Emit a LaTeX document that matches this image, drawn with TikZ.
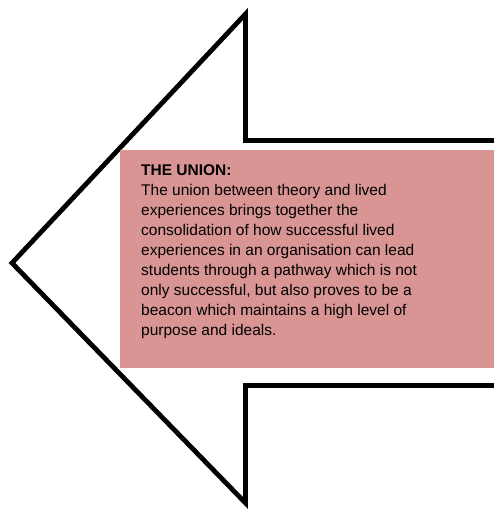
\documentclass[tikz,border=0pt]{standalone}
\usepackage{fontspec}
\setmainfont{Liberation Sans}
\usetikzlibrary{positioning}
\definecolor{unionpink}{RGB}{217,149,148}

\tikzset{
    outline/.style={draw=black, line width=4.8pt, line join=miter},
    notebox/.style={fill=unionpink, draw=none},
    notetext/.style={align=left, inner sep=0pt, anchor=north west,
        font=\fontsize{15.5}{20.1}\selectfont}
}

\begin{document}
\begin{tikzpicture}[x=1pt, y=-1pt]
    \useasboundingbox (0, 0) rectangle (493, 509);

    \coordinate (T) at (12, 263);
    \coordinate (HT) at (245.5, 14);
    \coordinate (ST) at (245.5, 140.5);
    \coordinate (RT) at (500, 140.5);
    \coordinate (HB) at (245.5, 503);
    \coordinate (SB) at (245.5, 385.5);
    \coordinate (RB) at (500, 385.5);

    \draw[outline] (RT) -- (ST) -- (HT) -- (T) -- (HB) -- (SB) -- (RB);

    \fill[notebox] (120, 150) rectangle (500, 368);

    \node[notetext] (union) at (141, 164) {\textbf{THE UNION:}\\
        The union between theory and lived\\
        experiences brings together the\\
        consolidation of how successful lived\\
        experiences in an organisation can lead\\
        students through a pathway which is not\\
        only successful, but also proves to be a\\
        beacon which maintains a high level of\\
        purpose and ideals.};
\end{tikzpicture}
\end{document}
